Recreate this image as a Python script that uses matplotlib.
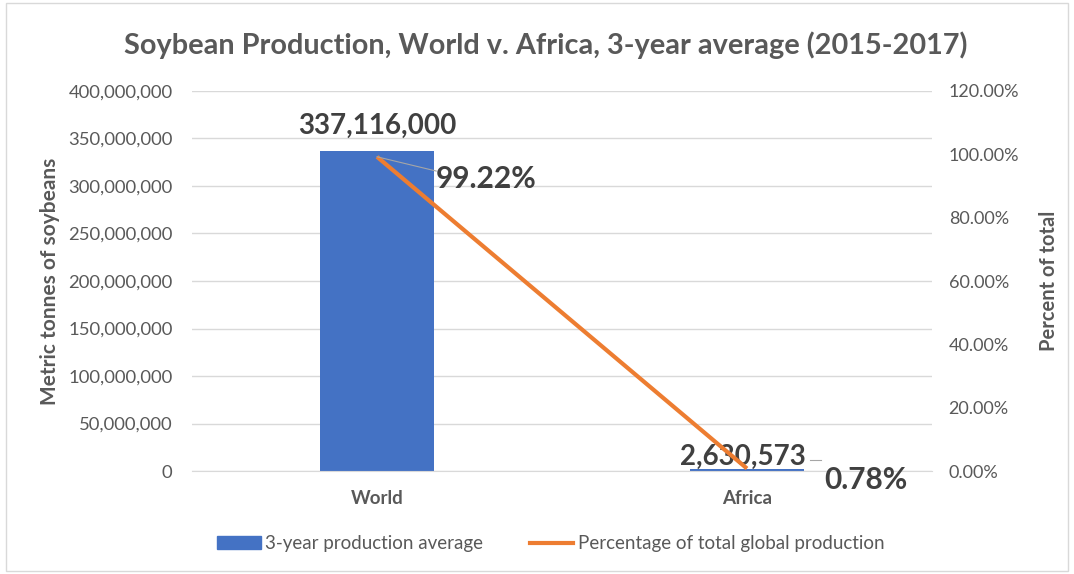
import numpy as np
import matplotlib.pyplot as plt
from matplotlib.patches import Rectangle
from matplotlib.lines import Line2D
from matplotlib.ticker import FuncFormatter

plt.rcParams['font.family'] = ['Lato', 'DejaVu Sans']

# Data
regions = ['World', 'Africa']
production = [337116000, 2630573]
share = [99.22, 0.78]

prod_labels = ['337,116,000', '2,630,573']
share_labels = ['99.22%', '0.78%']

blue = '#4472C4'
orange = '#ED7D31'
grey_txt = '#595959'
dark_txt = '#404040'

fig = plt.figure(figsize=(10.74, 5.74), dpi=100)
ax = fig.add_axes([0.1788, 0.1794, 0.689, 0.6621])
ax2 = ax.twinx()

x = np.arange(len(regions))
ax.bar(x, production, width=0.31, color=blue, zorder=2)
ax.set_xlim(-0.5, 1.5)
ax.set_ylim(0, 400e6)
ax.set_yticks(np.arange(0, 400e6 + 1, 50e6))
ax.yaxis.set_major_formatter(FuncFormatter(lambda v, p: f'{v:,.0f}'))
ax.set_xticks(x)
ax.set_xticklabels(regions, fontsize=13.5, fontweight='bold', color=grey_txt)
ax.grid(axis='y', color='#D9D9D9', linewidth=1, zorder=0)
ax.set_axisbelow(True)
ax.tick_params(axis='y', length=0, labelsize=13.3, labelcolor=grey_txt, pad=14)
ax.tick_params(axis='x', length=0, pad=14)
for s in ax.spines.values():
    s.set_visible(False)
ax.spines['bottom'].set_visible(True)
ax.spines['bottom'].set_color('#D9D9D9')
ax.set_ylabel('Metric tonnes of soybeans', fontsize=15, fontweight='bold',
              color=grey_txt, labelpad=6)

ax2.plot(x, share, color=orange, linewidth=3, solid_capstyle='butt', zorder=3)
ax2.set_ylim(0, 120)
ax2.set_yticks(np.arange(0, 121, 20))
ax2.yaxis.set_major_formatter(FuncFormatter(lambda v, p: f'{v:.2f}%'))
ax2.tick_params(axis='y', length=0, labelsize=13, labelcolor=grey_txt, pad=12)
for s in ax2.spines.values():
    s.set_visible(False)
ax2.set_ylabel('Percent of total', fontsize=14.5, fontweight='bold',
               color=grey_txt, labelpad=14)

# data labels for bars
ax.text(x[0], production[0] + 13e6, prod_labels[0], ha='center', va='bottom',
        fontsize=20, fontweight='bold', color=dark_txt, zorder=5)
ax.text(x[1] - 0.01, production[1] - 1e6, prod_labels[1], ha='center', va='bottom',
        fontsize=20, fontweight='bold', color=dark_txt, zorder=5)
ax.plot([x[1] + 0.17, x[1] + 0.2], [production[1] + 9e6, production[1] + 9e6],
        color='#A6A6A6', linewidth=0.8, zorder=4)

# data labels for the line, with leader lines
ax2.plot([x[0], x[0] + 0.16], [share[0], share[0] - 4.5], color='#A6A6A6',
         linewidth=0.8, zorder=4)
ax2.text(x[0] + 0.16, share[0] - 7, share_labels[0], ha='left', va='center',
         fontsize=21.5, fontweight='bold', color=dark_txt, zorder=5)
ax2.text(x[1] + 0.21, share[1] - 3.5, share_labels[1], ha='left', va='center',
         fontsize=21.5, fontweight='bold', color=dark_txt, zorder=5)

fig.suptitle('Soybean Production, World v. Africa, 3-year average (2015-2017)',
             x=0.508, y=0.945, fontsize=20.8, fontweight='bold', color=grey_txt)

handles = [Rectangle((0, 0), 1, 1, color=blue),
           Line2D([0], [0], color=orange, linewidth=3)]
fig.legend(handles, ['3-year production average', 'Percentage of total global production'],
           loc='center', bbox_to_anchor=(0.513, 0.053), ncol=2, frameon=False,
           fontsize=13.5, labelcolor=grey_txt, handlelength=2.3, handletextpad=0.25,
           columnspacing=2.5)

fig.patches.append(Rectangle((0.006, 0.006), 0.988, 0.988, transform=fig.transFigure,
                             fill=False, edgecolor='#D9D9D9', linewidth=1))

fig.savefig('out.png', dpi=100)
